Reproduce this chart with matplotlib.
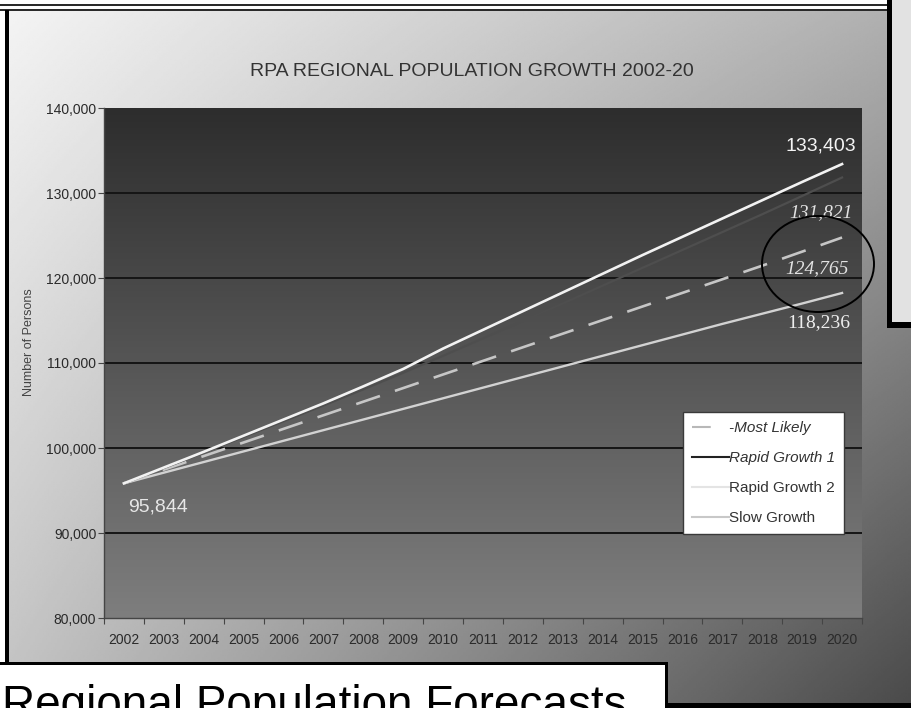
import numpy as np
import matplotlib
matplotlib.use('Agg')
import matplotlib.pyplot as plt
from matplotlib import font_manager
from matplotlib.colors import LinearSegmentedColormap
from matplotlib.lines import Line2D
from matplotlib.patches import Ellipse, Rectangle

years = [str(y) for y in range(2002, 2021)]

most_likely = [95844, 97450, 99050, 100650, 102250, 103850, 105450, 107050, 108650, 110250,
               111850, 113450, 115050, 116650, 118250, 119850, 121450, 123100, 124765]
rapid_1 = [95844, 97650, 99450, 101300, 103150, 105000, 106900, 108850, 110850, 112900,
           114950, 117000, 119100, 121200, 123300, 125400, 127500, 129650, 131821]
rapid_2 = [95844, 97700, 99550, 101450, 103350, 105250, 107250, 109300, 111700, 113900,
           116100, 118300, 120500, 122700, 124850, 127000, 129150, 131300, 133403]
slow = [95844, 97100, 98350, 99600, 100850, 102100, 103350, 104600, 105850, 107100,
        108350, 109600, 110850, 112100, 113350, 114600, 115800, 117000, 118236]

legend_labels = ['-Most Likely', 'Rapid Growth 1', 'Rapid Growth 2', 'Slow Growth']

plt.rcParams['font.family'] = ['Liberation Sans', 'DejaVu Sans']

W, H = 911, 708
PT = 72 / 100  # points per pixel

installed = {f.name for f in font_manager.fontManager.ttflist}
if 'Liberation Sans Narrow' in installed:
    title_font, title_size = 'Liberation Sans Narrow', 17
else:
    title_font, title_size = 'Liberation Sans', 14

fig = plt.figure(figsize=(W / 100, H / 100), dpi=100, facecolor='white')

# slide backdrop, drawn in pixel units
bg = fig.add_axes([0, 0, 1, 1], zorder=-10)
bg.set_xlim(0, W)
bg.set_ylim(H, 0)
bg.axis('off')

gx = np.linspace(9 / W, 1, 400)
gy = np.linspace(11 / H, 703 / H, 400)
u, w = np.meshgrid(gx, gy)
shade = 0.96 - 0.27 * u - 0.2 * w - 0.2 * u * w
bg.imshow(shade, cmap='gray', vmin=0, vmax=1, extent=[9, W, 703, 11],
          aspect='auto', interpolation='bilinear')

bg.plot([0, 887], [5, 5], color='black', lw=1.2)
bg.plot([0, 887], [10, 10], color='black', lw=1.2)
bg.add_patch(Rectangle((5, 10), 4, 653, facecolor='black', edgecolor='none'))

# side window on the right
bg.add_patch(Rectangle((887, 0), 24, 328, facecolor='black', edgecolor='none'))
bg.add_patch(Rectangle((892, 0), 19, 322, facecolor='#e2e2e2', edgecolor='none'))

# caption box at the bottom
bg.add_patch(Rectangle((0, 662), 668, 46, facecolor='black', edgecolor='none'))
bg.add_patch(Rectangle((0, 665), 665, 43, facecolor='white', edgecolor='none'))
bg.add_patch(Rectangle((665, 703), 246, 5, facecolor='black', edgecolor='none'))
bg.text(2, 718, 'Regional Population Forecasts', fontsize=33, color='black',
        va='baseline', ha='left', family='Liberation Sans')

fig.text(472 / W, 1 - 71 / H, 'RPA REGIONAL POPULATION GROWTH 2002-20',
         ha='center', va='center', fontsize=title_size, color='#333333', family=title_font)

# plot area
ax = fig.add_axes([104 / W, 1 - 618 / H, (862 - 104) / W, (618 - 108) / H])
x = np.arange(len(years))
ax.set_xlim(-0.5, len(years) - 0.5)
ax.set_ylim(80000, 140000)

plot_cmap = LinearSegmentedColormap.from_list('plotbg', ['#2d2d2d', '#7e7e7e'])
ax.imshow(np.linspace(0, 1, 256).reshape(-1, 1), cmap=plot_cmap,
          extent=[-0.5, len(years) - 0.5, 80000, 140000], aspect='auto', zorder=0)

for v in range(90000, 140000, 10000):
    ax.axhline(v, color='#151515', lw=1.4, zorder=1)

ax.plot(x, slow, color='#d2d2d2', lw=1.7, zorder=3)
ax.plot(x, most_likely, color='#c6c6c6', lw=1.9, dashes=(9.5, 6), zorder=3)
ax.plot(x, rapid_1, color='#4e4e4e', lw=1.6, zorder=3)
ax.plot(x, rapid_2, color='#f2f2f2', lw=1.9, zorder=4)

for side in ['top', 'right']:
    ax.spines[side].set_visible(False)
for side in ['left', 'bottom']:
    ax.spines[side].set_color('#454545')
    ax.spines[side].set_linewidth(1.0)

ax.set_yticks(range(80000, 140001, 10000))
ax.set_yticklabels([f'{v:,}' for v in range(80000, 140001, 10000)])
ax.tick_params(axis='y', length=4, width=0.8, color='#454545', pad=1.5,
               labelsize=10, labelcolor='#2a2a2a')
ax.set_xticks(x)
ax.set_xticklabels(years)
ax.set_xticks(np.arange(-0.5, len(years)), minor=True)
ax.tick_params(axis='x', which='major', length=0, pad=11, labelsize=10, labelcolor='#2a2a2a')
ax.tick_params(axis='x', which='minor', length=4, width=0.8, color='#454545')

ax.set_ylabel('Number of Persons', fontsize=9, color='#444444')
ax.yaxis.set_label_coords((35 - 104) / 758, 0.54)

# end-point value labels
def value_label(xi, val, dx, dy, **kw):
    ax.annotate(f'{val:,}', xy=(xi, val), xytext=(dx * PT, dy * PT),
                textcoords='offset points', ha='center', va='center',
                fontsize=14, zorder=6, **kw)

value_label(18, rapid_2[-1], -21, 18, color='#f4f4f4', family='Liberation Sans')
value_label(18, rapid_1[-1], -21, -35, color='#e2e2e2', family='Liberation Serif', style='italic')
value_label(18, most_likely[-1], -25, -31, color='#e2e2e2', family='Liberation Serif', style='italic')
value_label(18, slow[-1], -23, -30, color='#eeeeee', family='Liberation Serif')
value_label(0, rapid_2[0], 34, -24, color='#e6e6e6', family='Liberation Sans')

handles = [
    Line2D([], [], color='#b8b8b8', lw=1.5, dashes=(9, 9)),
    Line2D([], [], color='#222222', lw=1.5),
    Line2D([], [], color='#e4e4e4', lw=1.5),
    Line2D([], [], color='#c8c8c8', lw=1.5),
]
leg = ax.legend(handles, legend_labels, loc='upper left',
                bbox_to_anchor=((683 - 104) / 758, (618 - 412) / 510),
                borderaxespad=0, fontsize=11, handlelength=2.4, handletextpad=0,
                borderpad=0.6, labelspacing=1.05, fancybox=False, framealpha=1,
                facecolor='white', edgecolor='#3a3a3a')
leg.get_frame().set_linewidth(1.0)
leg.set_zorder(7)
for i, t in enumerate(leg.get_texts()):
    t.set_color('#333333')
    if i < 2:
        t.set_style('italic')

# highlight ring around the most likely figure
fig.add_artist(Ellipse((818 / W, 1 - 264 / H), 112 / W, 96 / H, transform=fig.transFigure,
                       fill=False, edgecolor='black', lw=1.4, zorder=8))

fig.savefig('out.png', dpi=100, facecolor='white')
